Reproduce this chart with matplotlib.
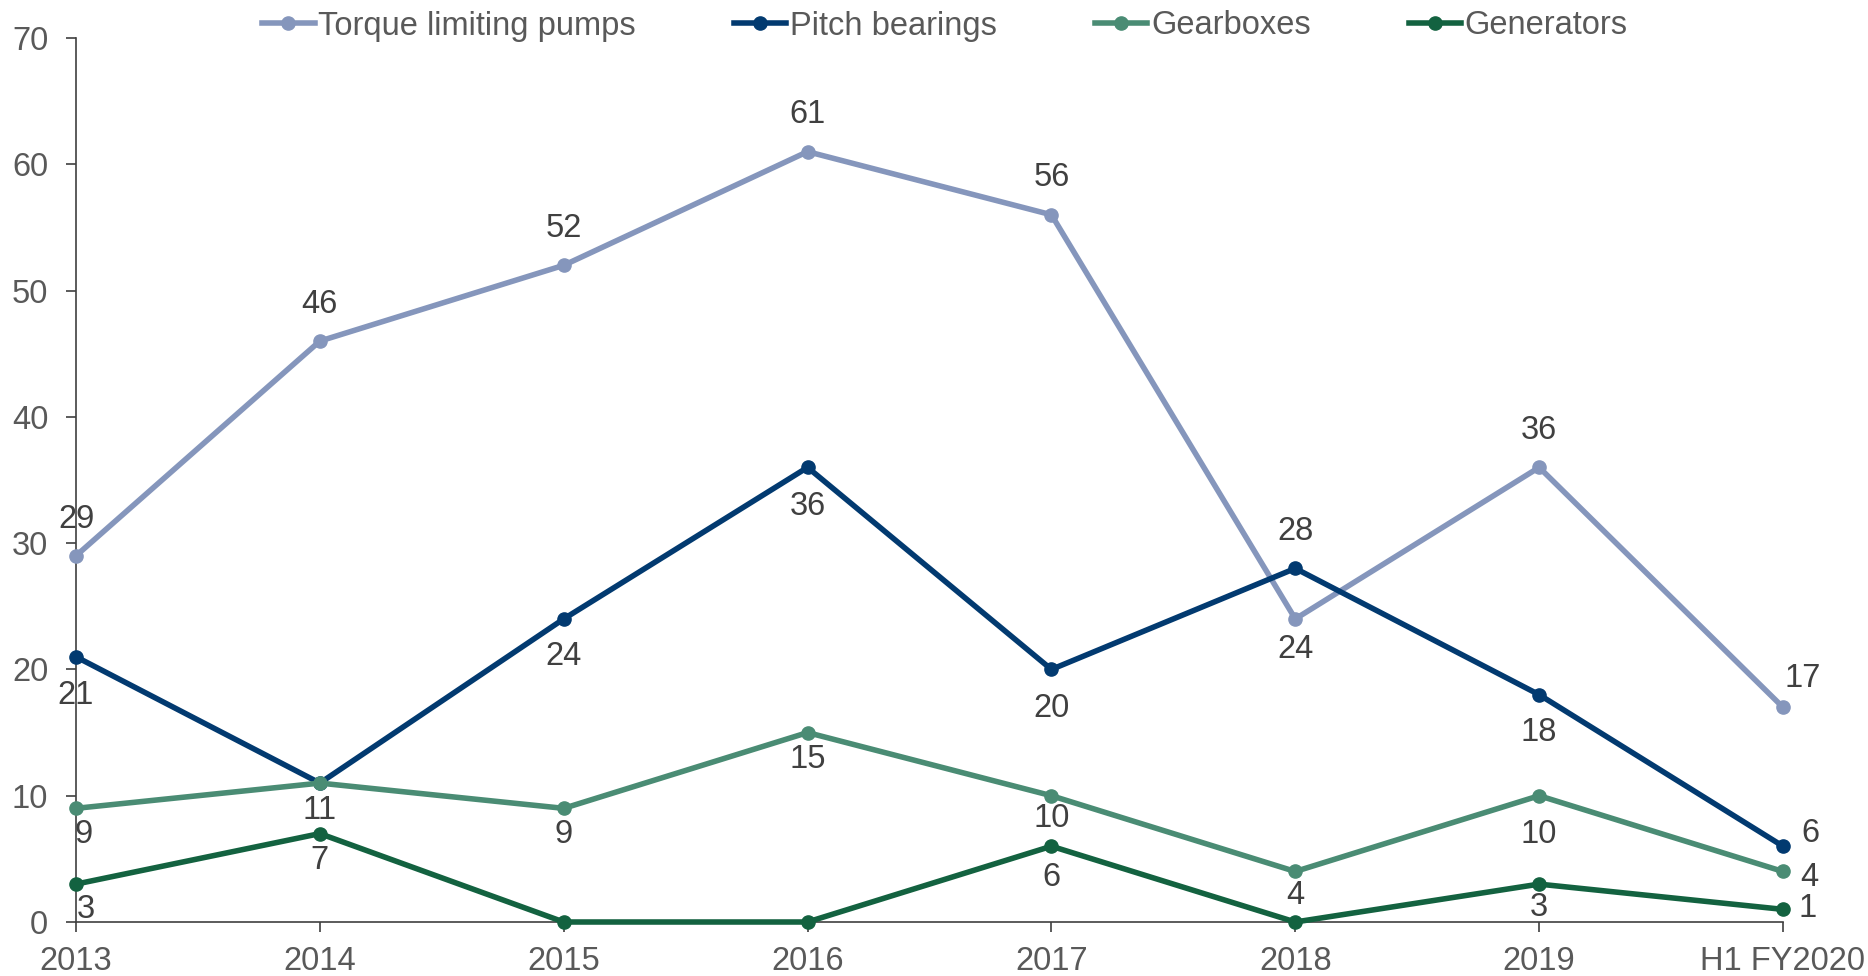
import matplotlib
matplotlib.use("Agg")
import matplotlib.pyplot as plt

plt.rcParams['font.family'] = ['Liberation Sans', 'DejaVu Sans']

categories = ['2013', '2014', '2015', '2016', '2017', '2018', '2019', 'H1 FY2020']
torque = [29, 46, 52, 61, 56, 24, 36, 17]
pitch = [21, 11, 24, 36, 20, 28, 18, 6]
gearboxes = [9, 11, 9, 15, 10, 4, 10, 4]
generators = [3, 7, 0, 0, 6, 0, 3, 1]

series_names = ['Torque limiting pumps', 'Pitch bearings', 'Gearboxes', 'Generators']
series_values = [torque, pitch, gearboxes, generators]
colors = ['#8596BC', '#023A70', '#4A8C74', '#136240']

# label placement per series: (dx_px, dy_px) per point, None = no label
label_pos = [
    [(0, 36), (0, 37), (0, 37), (0, 37), (0, 37), (0, -31), (0, 37), (20, 29)],
    [(0, -39), None, (0, -38), (0, -39), (0, -39), (0, 37), (0, -38), (27, 13)],
    [(8, -26), (0, -27), (0, -26), (0, -27), (0, -23), (0, -24), (0, -39), (26, -6)],
    [(10, -25), (0, -27), None, None, (0, -31), None, (0, -23), (25, 1)],
]

W, H = 1868, 976
fs = 23.5
fig = plt.figure(figsize=(W / 100, H / 100), dpi=100)
ax = fig.add_axes([76 / W, 1 - 922 / H, (1783 - 76) / W, (922 - 38) / H])

x = list(range(len(categories)))
handles = []
for name, vals, col in zip(series_names, series_values, colors):
    ln, = ax.plot(x, vals, color=col, lw=4.0, marker='o', markersize=9.5,
                  solid_joinstyle='round', clip_on=False, zorder=3, label=name)
    handles.append(ln)

for vals, poss in zip(series_values, label_pos):
    for xi, v, p in zip(x, vals, poss):
        if p is None:
            continue
        ax.annotate(str(v), (xi, v), xytext=(p[0], p[1]), textcoords='offset pixels',
                    ha='center', va='center', fontsize=fs, color='#404040', zorder=5)

ax.set_xlim(0, len(categories) - 1)
ax.set_ylim(0, 70)
ax.set_yticks(range(0, 71, 10))
ax.set_xticks(x)
ax.set_xticklabels(categories)

for s in ['top', 'right']:
    ax.spines[s].set_visible(False)
for s in ['left', 'bottom']:
    ax.spines[s].set_color('#404040')
    ax.spines[s].set_linewidth(1.2)

ax.tick_params(axis='y', direction='out', length=7, width=1.2, color='#404040',
               pad=13, labelsize=fs, labelcolor='#595959')
ax.tick_params(axis='x', direction='out', length=7, width=1.2, color='#404040',
               pad=10, labelsize=fs, labelcolor='#595959')

leg = fig.legend(handles=handles, loc='center', bbox_to_anchor=(945 / W, 1 - 26 / H),
                 ncol=4, frameon=False, fontsize=fs, handlelength=1.6,
                 handletextpad=0.12, columnspacing=3.0, borderpad=0, borderaxespad=0)
for t in leg.get_texts():
    t.set_color('#595959')

fig.savefig('out.png', dpi=100)
